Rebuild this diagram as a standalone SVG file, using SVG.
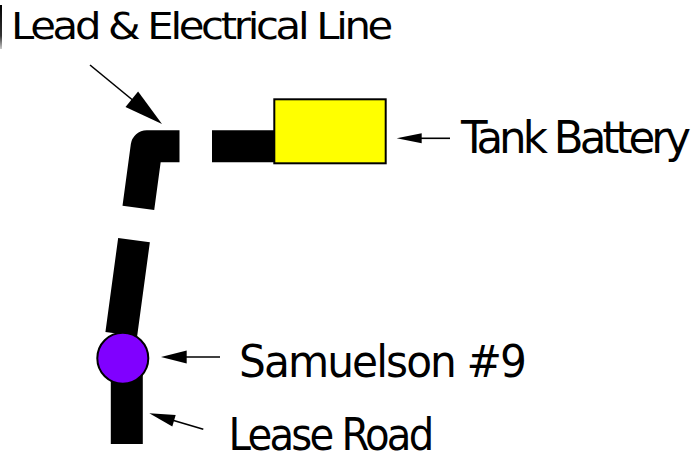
<svg xmlns="http://www.w3.org/2000/svg" width="696" height="466" viewBox="0 0 696 466">
  <defs>
    <linearGradient id="barGrad" x1="0" y1="0" x2="0" y2="1">
      <stop offset="0" stop-color="#000"/>
      <stop offset="0.7" stop-color="#333"/>
      <stop offset="1" stop-color="#ccc"/>
    </linearGradient>
  </defs>
  <style>
    .lbl { font-family: "DejaVu Sans", "Open Sans", sans-serif; fill: #000; }
    .road { fill: none; stroke: #000; stroke-width: 32; }
    .ptr { stroke: #000; stroke-width: 1.6; fill: none; }
    .head { fill: #000; stroke: none; }
  </style>
  <rect x="0" y="5" width="2" height="44" fill="url(#barGrad)"/>

  <g id="road">
    <path class="road" d="M 307 146.2 L 146.7 146.2 L 120.5 340" stroke-dasharray="95 32.5" stroke-linejoin="round"/>
    <line class="road" x1="126.8" y1="356" x2="126.8" y2="444" stroke-width="31.5"/>
  </g>

  <g id="tank-battery">
    <rect x="274.3" y="99.3" width="111.4" height="64" fill="#ffff00" stroke="#000" stroke-width="2"/>
  </g>

  <g id="well">
    <circle cx="122.8" cy="358.3" r="25.5" fill="#8000ff" stroke="#000" stroke-width="2"/>
  </g>

  <g id="connectors">
    <line class="ptr" x1="90" y1="65" x2="135" y2="102" stroke-width="2"/>
    <polygon class="head" points="162,124 125.5,107 138.1,91.6"/>
    <line class="ptr" x1="418" y1="138.3" x2="450" y2="138.3"/>
    <polygon class="head" points="396.7,138.3 421.7,133.3 421.7,143.3"/>
    <line class="ptr" x1="184" y1="357" x2="220" y2="357"/>
    <polygon class="head" points="161,357 186.7,350.5 186.7,363.5"/>
    <line class="ptr" x1="172" y1="420" x2="203.3" y2="429.3"/>
    <polygon class="head" points="149.3,413.3 175.7,414.9 172.3,426.4"/>
  </g>

  <g id="label-lead">
    <text class="lbl" x="11" y="39.3" font-size="38" letter-spacing="-3" textLength="379" lengthAdjust="spacingAndGlyphs">Lead &amp; Electrical Line</text>
  </g>
  <g id="label-tank">
    <text class="lbl" x="461" y="152.7" font-size="44" letter-spacing="-4" textLength="226" lengthAdjust="spacingAndGlyphs">Tank Battery</text>
  </g>
  <g id="label-well">
    <text class="lbl" x="239" y="376.7" font-size="44" letter-spacing="-2" textLength="286" lengthAdjust="spacingAndGlyphs">Samuelson #9</text>
  </g>
  <g id="label-road">
    <text class="lbl" x="228.5" y="450" font-size="44" letter-spacing="-3" textLength="203" lengthAdjust="spacingAndGlyphs">Lease Road</text>
  </g>
</svg>
